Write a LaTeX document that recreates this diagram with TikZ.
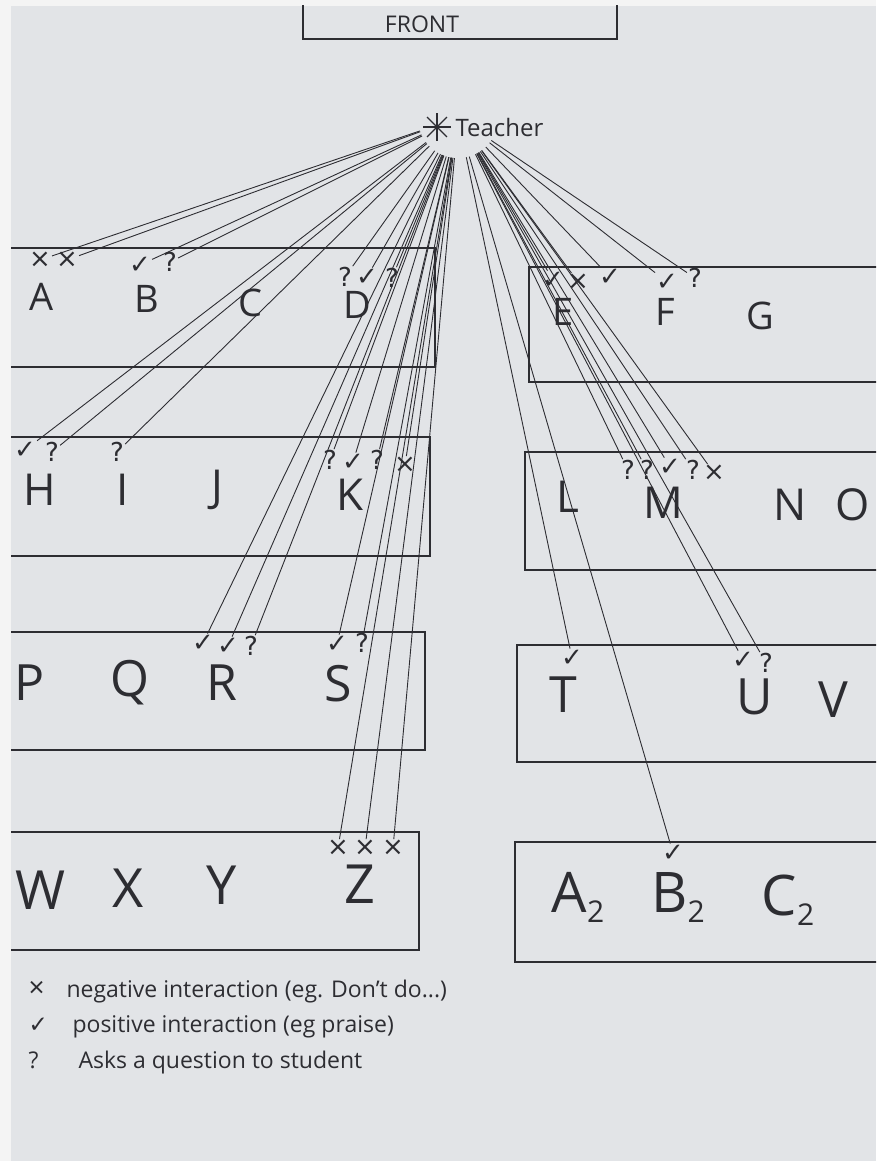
\documentclass[tikz,border=0pt]{standalone}
\usepackage{fontspec}
\setmainfont{Open Sans}
\newfontfamily\symfont{DejaVu Sans}
\definecolor{paper}{RGB}{226,228,231}
\definecolor{margin}{RGB}{244,244,244}
\definecolor{ink}{RGB}{45,45,50}
\newcommand\subtwo{\raisebox{-0.35ex}{\fontsize{30}{30}\selectfont 2}}

\begin{document}
\begin{tikzpicture}[x=1pt, y=-1pt, ink,
  seat/.style={inner sep=1pt, font=\fontsize{#1}{#1}\selectfont},
  tally/.style={inner sep=1pt, font=\symfont\fontsize{26}{26}\selectfont},
  desk/.style={draw=ink, line width=1.4pt},
  look/.style={draw=ink, line width=0.9pt}]
\useasboundingbox (0,0) rectangle (876,1161);
\fill[margin] (0,0) rectangle (876,1161);
\fill[paper] (11,6) rectangle (876,1161);
\clip (11,6) rectangle (876,1161);

% front of the room
\draw[desk] (303,-5) -- (303,39) -- (617,39) -- (617,-5);
\node[font=\fontsize{23}{23}\selectfont] (front) at (422,24) {FRONT};

% teacher
\node[circle, minimum size=80] (teacher) at (458,118) {};
\coordinate (star) at (437,127);
\foreach \a in {0,45,90,135} \draw[line width=1.1pt] (star) ++(\a:14) -- ++(\a+180:28);
\node[anchor=west, font=\fontsize{24}{24}\selectfont] (tlabel) at (452,128) {Teacher};

% desks
\draw[desk] (0,248) rectangle (435,367);
\draw[desk] (0,437) rectangle (430,556);
\draw[desk] (0,632) rectangle (425,750);
\draw[desk] (0,832) rectangle (419,950);
\draw[desk] (529,267) rectangle (890,382);
\draw[desk] (525,452) rectangle (890,570);
\draw[desk] (517,645) rectangle (890,762);
\draw[desk] (515,842) rectangle (890,962);

% students
\node[seat=38] (sA) at (42,297) {A};
\node[seat=38] (sB) at (147,299) {B};
\node[seat=38] (sC) at (250,303) {C};
\node[seat=38] (sD) at (357,305) {D};
\node[seat=38] (sE) at (563,312) {E};
\node[seat=38] (sF) at (665,312) {F};
\node[seat=38] (sG) at (760,316) {G};
\node[seat=44] (sH) at (40,490) {H};
\node[seat=44] (sI) at (123,490) {I};
\node[seat=44] (sJ) at (217,490) {J};
\node[seat=44] (sK) at (350,495) {K};
\node[seat=44] (sL) at (568,497) {L};
\node[seat=44] (sM) at (663,503) {M};
\node[seat=44] (sN) at (790,505) {N};
\node[seat=44] (sO) at (853,505) {O};
\node[seat=50] (sP) at (30,683) {P};
\node[seat=50] (sQ) at (130,683) {Q};
\node[seat=50] (sR) at (222,683) {R};
\node[seat=50] (sS) at (338,684) {S};
\node[seat=50] (sT) at (563,695) {T};
\node[seat=50] (sU) at (755,697) {U};
\node[seat=50] (sV) at (833,700) {V};
\node[seat=54] (sW) at (40,890) {W};
\node[seat=54] (sX) at (128,888) {X};
\node[seat=54] (sY) at (222,885) {Y};
\node[seat=54] (sZ) at (360,884) {Z};
\node[seat=56, anchor=base] (sA2) at (578,912) {A\subtwo};
\node[seat=56, anchor=base] (sB2) at (678,912) {B\subtwo};
\node[seat=56, anchor=base] (sC2) at (788,915) {C\subtwo};

% interactions
\node[tally] (a1) at (40,260) {×};
\node[tally] (a2) at (67,260) {×};
\node[tally] (b1) at (140,265) {✓};
\node[tally] (b2) at (170,262) {?};
\node[tally] (d1) at (345,277) {?};
\node[tally] (d2) at (367,277) {✓};
\node[tally] (d3) at (392,278) {?};
\node[tally] (e1) at (553,280) {✓};
\node[tally] (e2) at (578,282) {×};
\node[tally] (e3) at (610,277) {✓};
\node[tally] (f1) at (667,282) {✓};
\node[tally] (f2) at (695,278) {?};
\node[tally] (h1) at (25,450) {✓};
\node[tally] (h2) at (52,452) {?};
\node[tally] (i1) at (117,452) {?};
\node[tally] (k1) at (330,460) {?};
\node[tally] (k2) at (353,462) {✓};
\node[tally] (k3) at (377,460) {?};
\node[tally] (k4) at (405,465) {×};
\node[tally] (m1) at (628,470) {?};
\node[tally] (m2) at (647,470) {?};
\node[tally] (m3) at (670,467) {✓};
\node[tally] (m4) at (693,470) {?};
\node[tally] (m5) at (714,473) {×};
\node[tally] (r1) at (203,643) {✓};
\node[tally] (r2) at (228,646) {✓};
\node[tally] (r3) at (251,646) {?};
\node[tally] (s1) at (337,644) {✓};
\node[tally] (s2) at (362,643) {?};
\node[tally] (t1) at (572,658) {✓};
\node[tally] (u1) at (743,660) {✓};
\node[tally] (u2) at (766,663) {?};
\node[tally] (z1) at (338,848) {×};
\node[tally] (z2) at (365,848) {×};
\node[tally] (z3) at (393,848) {×};
\node[tally] (b21) at (673,853) {✓};

\foreach \m in {a1,a2,b1,b2,d1,d2,d3,e1,e2,e3,f1,f2,h1,h2,i1,k1,k2,k3,k4,
  m1,m2,m3,m4,m5,r1,r2,r3,s1,s2,t1,u1,u2,z1,z2,z3,b21}
  \draw[look] (teacher) -- (\m);

% key
\node[anchor=west, font=\fontsize{23}{23}\selectfont] (legneg) at (25,992) {\makebox[38pt][l]{\fontsize{28}{28}\selectfont ×}negative interaction (eg. Don't do...)};
\node[anchor=west, font=\fontsize{23}{23}\selectfont] (legpos) at (25,1027) {\makebox[44pt][l]{\symfont ✓}positive interaction (eg praise)};
\node[anchor=west, font=\fontsize{23}{23}\selectfont] (legask) at (25,1063) {\makebox[50pt][l]{?}Asks a question to student};
\end{tikzpicture}
\end{document}
